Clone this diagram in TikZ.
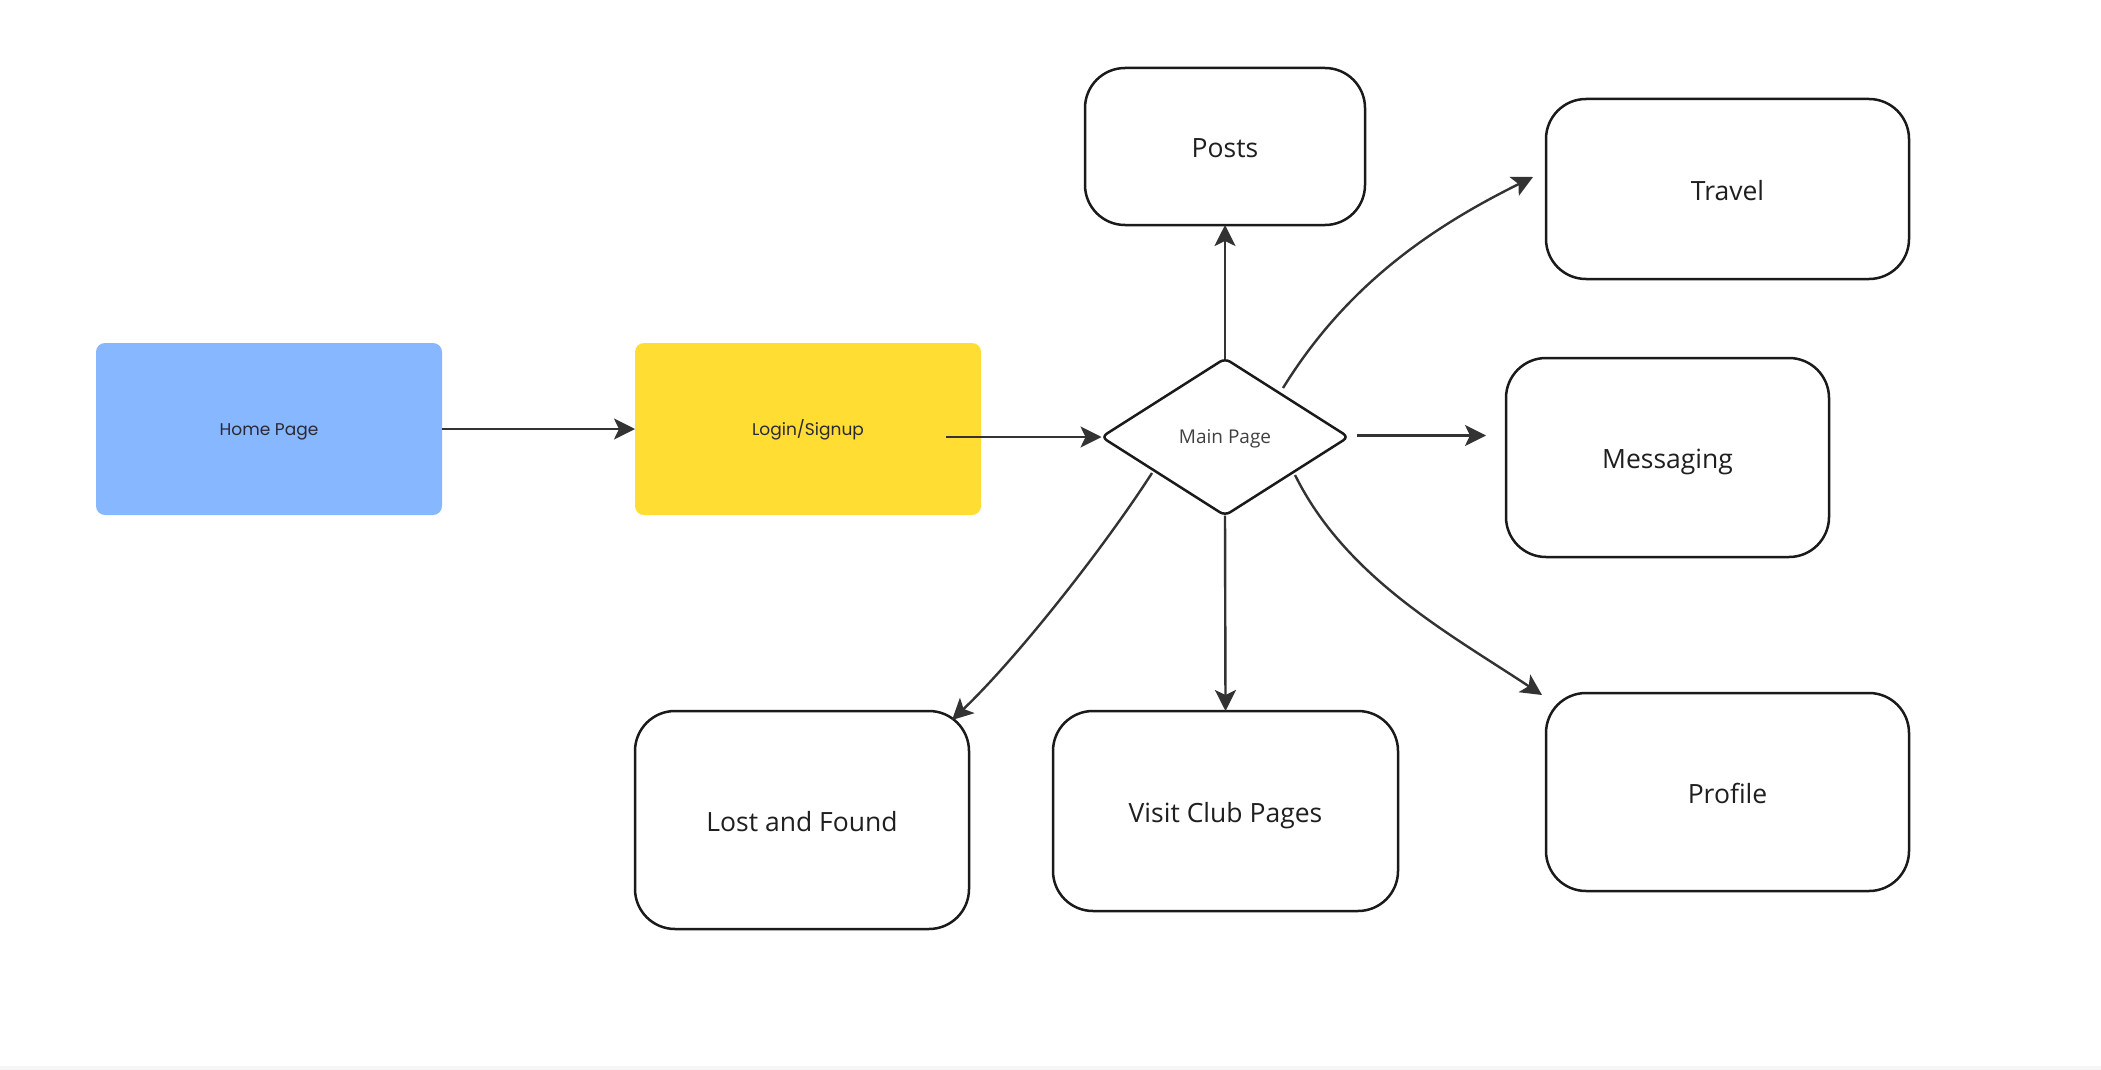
\documentclass[tikz,border=0pt]{standalone}
\usepackage{fontspec}
\setmainfont{Open Sans}
\newfontfamily\popfont{Poppins}
\usetikzlibrary{arrows.meta,shapes.geometric}
\definecolor{homeblue}{HTML}{86B7FF}
\definecolor{loginyellow}{HTML}{FFDD33}
\definecolor{edgegray}{HTML}{333333}
\definecolor{boxline}{HTML}{1A1A1A}
\definecolor{textdark}{HTML}{1F1F1F}
\definecolor{maingray}{HTML}{404040}
\definecolor{stickytext}{HTML}{2A2A35}
\begin{document}
\begin{tikzpicture}[x=1pt,y=-1pt,
  card/.style={draw=boxline, line width=2.5pt, rounded corners=40pt, fill=white,
    inner sep=0pt, outer sep=0pt, text=textdark, text height=22.5pt, text depth=0pt,
    font=\fontsize{26.5}{30}\selectfont},
  sticky/.style={rounded corners=9pt, inner sep=0pt, outer sep=0pt,
    minimum width=346pt, minimum height=172pt, text=stickytext,
    text height=12pt, text depth=0pt,
    font=\popfont\fontsize{17}{20}\selectfont},
  decision/.style={diamond, draw=boxline, line width=2.5pt, rounded corners=6pt,
    inner sep=0pt, outer sep=0pt, minimum width=247pt, minimum height=157pt,
    text=maingray, text height=13pt, text depth=0pt, font=\fontsize{19}{20}\selectfont},
  conn/.style={draw=edgegray, line width=2.4pt,
    -{Stealth[length=21pt,width=21pt,inset=5pt]}}]
\useasboundingbox (0,0) rectangle (2101,1070);
\fill[gray!7] (0,1066) rectangle (2101,1070);

\node[sticky, fill=homeblue] (home) at (269,429) {Home Page};
\node[sticky, fill=loginyellow] (login) at (808,429) {Login/Signup};
\node[decision] (main) at (1225,437) {Main Page};

\node[card, minimum width=280pt, minimum height=157pt] (posts) at (1225,146.5) {Posts};
\node[card, minimum width=363pt, minimum height=180pt] (travel) at (1727.5,189) {Travel};
\node[card, minimum width=323pt, minimum height=199pt] (messaging) at (1667.5,457.5) {Messaging};
\node[card, minimum width=363pt, minimum height=198pt] (profile) at (1727.5,792) {Profile};
\node[card, minimum width=334pt, minimum height=218pt] (lost) at (802,820) {Lost and Found};
\node[card, minimum width=345pt, minimum height=200pt] (visit) at (1225.5,811) {Visit Club Pages};

\coordinate (ls) at (946,437);
\coordinate (tS) at (1283,388);
\coordinate (tE) at (1533,177);
\coordinate (mS) at (1357,435.5);
\coordinate (mE) at (1486,435.5);
\coordinate (pS) at (1295,475);
\coordinate (pE) at (1542,695);
\coordinate (lS) at (1152,473);
\coordinate (lE) at (952,720);

\draw[conn] (home.east) -- (login.west);
\draw[conn] (ls) -- (main.west);
\draw[conn] (main.north) -- (posts.south);
\draw[conn] (tS) .. controls (1346,286) and (1430,228) .. (tE);
\draw[conn] (mS) -- (mE);
\draw[conn] (pS) .. controls (1346,578) and (1450,634) .. (pE);
\draw[conn] (main.south) -- (visit.north);
\draw[conn] (lS) .. controls (1103,549) and (1017,658) .. (lE);
\end{tikzpicture}
\end{document}
